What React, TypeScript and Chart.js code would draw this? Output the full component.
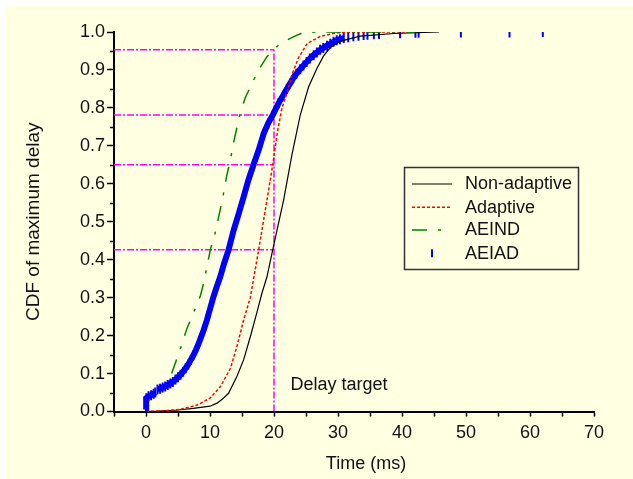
import React, { useEffect, useRef } from "react";
import { Chart, registerables } from "chart.js";

Chart.register(...registerables);

const FONT = '"Liberation Sans", Arial, Helvetica, sans-serif';
const BG = "#FFFFE1";

const seriesLabels = ["Non-adaptive", "Adaptive", "AEIND", "AEIAD"];
const xTitle = "Time (ms)";
const yTitle = "CDF of maximum delay";
const annotationText = "Delay target";

// Non-adaptive (black, solid)
const nonAdaptiveTime = [0, 2, 5, 7.4, 10, 11.1, 11.9, 12.9, 14.2, 15.25, 16.3, 17.3, 18.1, 18.9, 19.8, 21.5, 22.8, 24.1, 25.4, 26.7, 27.75, 28.8, 30.4, 33.5, 38.7, 45.8];
const nonAdaptiveCdf = [0, 0.001, 0.004, 0.008, 0.014, 0.022, 0.032, 0.048, 0.092, 0.136, 0.197, 0.259, 0.311, 0.355, 0.426, 0.557, 0.676, 0.781, 0.855, 0.904, 0.937, 0.959, 0.976, 0.989, 0.996, 1.0];

// Adaptive (red, dashed)
const adaptiveTime = [0, 3, 5.4, 8.0, 10.0, 11.6, 13.2, 14.2, 15.25, 16.3, 17.6, 18.9, 19.8, 20.5, 21.25, 22.0, 22.8, 23.8, 25.2, 27.2, 29.8, 33.5, 40.8];
const adaptiveCdf = [0, 0.002, 0.006, 0.017, 0.035, 0.065, 0.114, 0.171, 0.241, 0.3, 0.426, 0.557, 0.65, 0.733, 0.8, 0.838, 0.887, 0.931, 0.97, 0.988, 0.998, 1.0, 1.0];

// AEIND (green, dash-dot)
const aeindTime = [4.0, 5.36, 6.4, 7.4, 8.5, 9.0, 10.05, 10.8, 11.9, 12.6, 13.2, 13.7, 14.7, 15.5, 16.8, 17.6, 18.9, 19.94, 21.0, 23.1, 24.6, 27.2, 42.0];
const aeindCdf = [0.1, 0.165, 0.219, 0.259, 0.305, 0.338, 0.426, 0.47, 0.555, 0.62, 0.665, 0.71, 0.785, 0.826, 0.873, 0.9, 0.935, 0.953, 0.97, 0.988, 0.999, 1.0, 1.0];

// AEIAD (blue, tick markers); null = no sample in between
const aeiadTime = [0, 0, 0.05, 0.4, 0.8, 1.2, 1.45, 1.6, 1.8, 2.2, 2.6, 3.0, 3.4, 3.8, 4.2, 4.6, 5.0, 5.4, 5.8, 6.2, 6.6, 7.0, 7.4, 7.8, 8.2, 8.6, 9.0, 9.5, 10.0, 10.5, 11.0, 11.6, 12.2, 12.9, 13.7, 14.5, 15.2, 16.0, 16.8, 17.6, 18.4, 19.1, 19.8, 20.7, 21.4, 22.0, 22.5, 23.0, 23.5, 24.1, 24.6, 25.1, 25.6, 26.2, 26.7, 27.2, 27.7, 28.3, 28.8, 29.3, 29.8, 30.3, 30.9, 31.2, 31.6, 31.8, 32.4, 32.6, 33.2, 33.4, 34.0, 34.2, 34.6, 34.8, 35.6, 35.8, 36.4, 36.6, 39.7, 39.9, 42.1, 42.3, 42.6, 42.8, 49.2, 49.4, 56.8, 57.0, 62.0];
const aeiadCdf = [0.005, 0.02, 0.035, 0.04, 0.043, 0.047, 0.05, null, 0.058, 0.06, 0.063, 0.066, 0.07, 0.074, 0.078, 0.084, 0.09, 0.097, 0.105, 0.114, 0.124, 0.136, 0.148, 0.162, 0.178, 0.196, 0.214, 0.24, 0.27, 0.3, 0.326, 0.355, 0.39, 0.426, 0.478, 0.522, 0.562, 0.61, 0.65, 0.689, 0.733, 0.76, 0.781, 0.812, 0.832, 0.85, 0.864, 0.878, 0.89, 0.902, 0.912, 0.921, 0.93, 0.939, 0.946, 0.953, 0.958, 0.964, 0.969, 0.974, 0.978, 0.981, 0.984, null, 0.986, null, 0.989, null, 0.99, null, 0.992, null, 0.993, null, 0.994, null, 0.995, null, 0.997, null, 0.998, null, 0.998, null, 0.999, null, 0.999, null, 1.0];

// Delay-target guide lines
const targetDelay = 20;
const targetLevels = [0.953, 0.781, 0.65, 0.426];
const xMin = -5;
const xMax = 70;

const toPoints = (xs: number[], ys: (number | null)[]) => xs.map((x, i) => ({ x, y: ys[i] }));

const isMajor = (v: number) => Math.abs(v * 10 - Math.round(v * 10)) < 1e-6;

const MAGENTA = "#FF00FF";
const MAG_DASH = [7, 2, 2, 2];
const GREEN_DASH = [15, 11, 3, 11];
const RED_DASH = [3, 2];

export default function App() {
  const ref = useRef<HTMLCanvasElement | null>(null);

  useEffect(() => {
    if (!ref.current) return;

    const bgPlugin = {
      id: "bgPlugin",
      beforeDraw(chart: any) {
        const { ctx, width, height } = chart;
        ctx.save();
        ctx.fillStyle = "#ffffff";
        ctx.fillRect(0, 0, width, height);
        ctx.fillStyle = BG;
        ctx.fillRect(6, 6, width - 6, height - 6);
        ctx.restore();
      },
    };

    const extrasPlugin = {
      id: "extrasPlugin",
      afterDraw(chart: any) {
        const { ctx, chartArea } = chart;
        const ys = chart.scales.y;
        ctx.save();
        // minor ticks on y axis
        ctx.strokeStyle = "#000";
        ctx.lineWidth = 1.5;
        ys.ticks.forEach((t: any) => {
          if (!isMajor(t.value)) {
            const py = Math.round(ys.getPixelForValue(t.value)) + 0.5;
            ctx.beginPath();
            ctx.moveTo(chartArea.left - 4, py);
            ctx.lineTo(chartArea.left, py);
            ctx.stroke();
          }
        });
        // texts
        ctx.fillStyle = "#111";
        ctx.font = `18px ${FONT}`;
        ctx.textBaseline = "alphabetic";
        ctx.textAlign = "left";
        ctx.fillText(annotationText, 290.5, 390);
        ctx.textAlign = "center";
        ctx.fillText(xTitle, 366, 469);

        // legend
        const bx = 404.5, by = 167.5, bw = 174, bh = 102;
        ctx.fillStyle = BG;
        ctx.fillRect(bx, by, bw, bh);
        ctx.strokeStyle = "#333";
        ctx.lineWidth = 1.5;
        ctx.setLineDash([]);
        ctx.strokeRect(bx, by, bw, bh);
        const rows = [184, 207.3, 230, 253.3];
        const dsIdx = [0, 1, 2, 3];
        dsIdx.forEach((di, r) => {
          const ds: any = chart.data.datasets[di];
          const y = rows[r];
          ctx.save();
          if (di === 3) {
            ctx.strokeStyle = ds.pointBorderColor;
            ctx.lineWidth = 2;
            ctx.beginPath();
            ctx.moveTo(432, y - 4);
            ctx.lineTo(432, y + 4);
            ctx.stroke();
          } else {
            ctx.strokeStyle = ds.borderColor;
            ctx.lineWidth = ds.borderWidth;
            ctx.setLineDash(ds.borderDash || []);
            ctx.beginPath();
            ctx.moveTo(412, y);
            ctx.lineTo(452, y);
            ctx.stroke();
          }
          ctx.restore();
          ctx.fillStyle = "#111";
          ctx.font = `18px ${FONT}`;
          ctx.textAlign = "left";
          ctx.textBaseline = "middle";
          ctx.fillText(seriesLabels[r], 465, y + 0.5);
        });
        ctx.restore();
      },
    };

    const guideSets = targetLevels.map((lv) => ({
      label: "guide",
      data: [
        { x: xMin, y: lv },
        { x: targetDelay, y: lv },
      ],
      borderColor: MAGENTA,
      borderWidth: 1.5,
      borderDash: MAG_DASH,
      pointRadius: 0,
      order: 10,
    }));

    const chart = new Chart(ref.current, {
      type: "line",
      data: {
        datasets: [
          {
            label: seriesLabels[0],
            data: toPoints(nonAdaptiveTime, nonAdaptiveCdf),
            borderColor: "#000000",
            borderWidth: 1.2,
            pointRadius: 0,
            order: 3,
          },
          {
            label: seriesLabels[1],
            data: toPoints(adaptiveTime, adaptiveCdf),
            borderColor: "#FF0000",
            borderWidth: 1.5,
            borderDash: RED_DASH,
            pointRadius: 0,
            order: 2,
          },
          {
            label: seriesLabels[2],
            data: toPoints(aeindTime, aeindCdf),
            borderColor: "#008000",
            borderWidth: 1.5,
            borderDash: GREEN_DASH,
            pointRadius: 0,
            order: 1,
          },
          {
            label: seriesLabels[3],
            data: toPoints(aeiadTime, aeiadCdf),
            borderColor: "#0000FF",
            borderWidth: 6,
            pointStyle: "line",
            rotation: 90,
            pointRadius: 5,
            pointBorderWidth: 2,
            pointBorderColor: "#0000FF",
            pointBackgroundColor: "#0000FF",
            spanGaps: false,
            clip: 0,
            order: 4,
          } as any,
          ...guideSets,
          {
            label: "guide",
            data: [
              { x: targetDelay, y: 0 },
              { x: targetDelay, y: targetLevels[0] },
            ],
            borderColor: MAGENTA,
            borderWidth: 1.5,
            borderDash: MAG_DASH,
            pointRadius: 0,
            order: 10,
          },
        ],
      },
      options: {
        animation: false,
        responsive: false,
        devicePixelRatio: 1,
        events: [],
        layout: { padding: { left: 0, right: 39, top: 32, bottom: 0 } },
        elements: { line: { tension: 0 } },
        plugins: {
          legend: { display: false },
          tooltip: { enabled: false },
        },
        scales: {
          x: {
            type: "linear",
            min: xMin,
            max: xMax,
            afterFit: (s: any) => {
              s.height = 67.5;
            },
            border: { display: true, color: "#000", width: 2 },
            grid: { drawOnChartArea: false, drawTicks: true, tickLength: 5, tickWidth: 1.5, tickColor: "#000" },
            ticks: {
              stepSize: 5,
              autoSkip: false,
              maxRotation: 0,
              padding: 6,
              color: "#111",
              font: { family: FONT, size: 18 },
              callback: (v: any) => (Math.round(v) % 10 === 0 ? String(v) : ""),
            },
          },
          y: {
            type: "linear",
            min: 0,
            max: 1,
            afterFit: (s: any) => {
              s.width = 114;
            },
            border: { display: true, color: "#000", width: 2 },
            grid: {
              drawOnChartArea: false,
              drawTicks: true,
              tickLength: 7,
              tickWidth: 1.5,
              tickColor: (c: any) => (c.tick && isMajor(c.tick.value) ? "#000" : "rgba(0,0,0,0)"),
            },
            ticks: {
              stepSize: 0.05,
              autoSkip: false,
              padding: 2,
              color: "#111",
              font: { family: FONT, size: 18 },
              callback: (v: any) => (isMajor(v) ? Number(v).toFixed(1) : ""),
            },
            title: {
              display: true,
              text: yTitle,
              color: "#111",
              font: { family: FONT, size: 19 },
              padding: { top: 22, bottom: 0 },
            },
          },
        },
      } as any,
      plugins: [bgPlugin, extrasPlugin],
    });

    return () => chart.destroy();
  }, []);

  return (
    <div style={{ position: "absolute", left: 0, top: 0, width: 633, height: 479 }}>
      <canvas ref={ref} width={633} height={479} style={{ display: "block", width: 633, height: 479 }} />
    </div>
  );
}
